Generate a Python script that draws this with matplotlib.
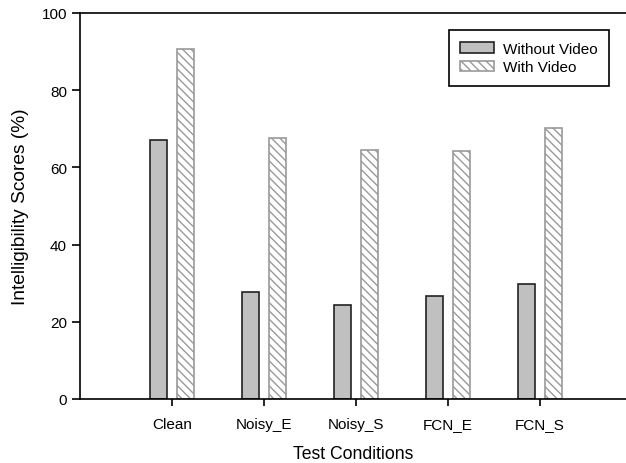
import matplotlib.pyplot as plt
import numpy as np

plt.rcParams['font.family'] = ['Liberation Sans', 'DejaVu Sans']
plt.rcParams['hatch.color'] = '#8c8c8c'
plt.rcParams['hatch.linewidth'] = 1.0

conditions = ['Clean', 'Noisy_E', 'Noisy_S', 'FCN_E', 'FCN_S']
without_video = [67.1, 27.6, 24.3, 26.8, 29.8]
with_video = [90.7, 67.6, 64.5, 64.2, 70.1]

fig = plt.figure(figsize=(6.26, 4.64), dpi=100)
ax = fig.add_axes([0.128, 0.138, 0.872, 0.832])

x = np.arange(1, len(conditions) + 1)
w = 0.185
off = 0.147

ax.bar(x - off, without_video, w, color='#c0c0c0', edgecolor='#222222',
       linewidth=1.2, label='Without Video')
ax.bar(x + off, with_video, w, color='white', edgecolor='#9a9a9a',
       hatch='\\\\\\\\', linewidth=1.2, label='With Video')

ax.set_xlim(0, 546 / 92)
ax.set_ylim(0, 100)
ax.set_xticks(x)
ax.set_xticklabels(conditions, fontsize=11)
ax.set_yticks([0, 20, 40, 60, 80, 100])
ax.tick_params(axis='y', labelsize=11, direction='out', length=6, width=1.2)
ax.tick_params(axis='x', direction='out', length=5, width=1.2, pad=8)

ax.spines['right'].set_visible(False)
for s in ['left', 'top', 'bottom']:
    ax.spines[s].set_linewidth(1.2)

ax.set_xlabel('Test Conditions', fontsize=12.7, labelpad=10)
ax.set_ylabel('Intelligibility Scores (%)', fontsize=13.8, labelpad=9)

leg = ax.legend(loc='upper right', bbox_to_anchor=(0.969, 0.955), fontsize=11,
                fancybox=False, edgecolor='black', framealpha=1,
                handlelength=2.2, handleheight=0.7, borderpad=0.75,
                handletextpad=0.6, labelspacing=0.3, borderaxespad=0)
leg.get_frame().set_linewidth(1.2)

fig.savefig('out.png', dpi=100)
